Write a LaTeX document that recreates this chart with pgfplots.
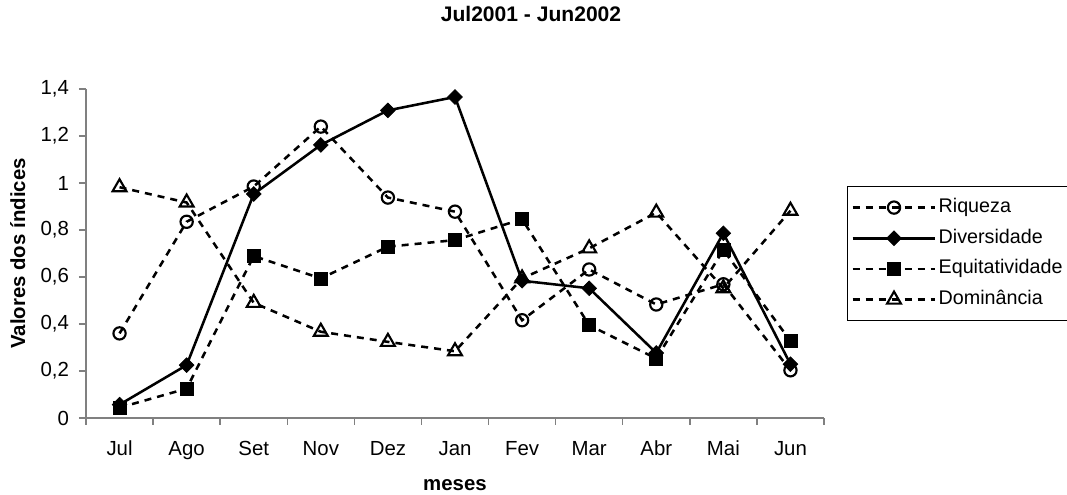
\documentclass[border=0pt]{standalone}
\usepackage{fontspec}
\setmainfont{Liberation Sans}
\usepackage{pgfplots}
\pgfplotsset{compat=1.18}
\newcommand{\fs}{\fontsize{15.3}{18}\selectfont}
\definecolor{axgray}{RGB}{128,128,128}
\begin{document}
\begin{tikzpicture}
\begin{axis}[
  scale only axis,
  width=553.5pt, height=246.75pt,
  xmin=-0.5, xmax=10.5, ymin=0, ymax=1.4,
  clip=false,
  axis x line*=bottom, axis y line*=left,
  axis line style={-, draw=axgray, line width=1.1pt},
  every tick/.style={draw=axgray, line width=1.1pt},
  tick align=outside,
  major tick length=5.25pt,
  xtick={-0.5,0.5,1.5,2.5,3.5,4.5,5.5,6.5,7.5,8.5,9.5,10.5},
  xticklabels={{},{},{},{},{},{},{},{},{},{},{},{}},
  extra x ticks={0,1,2,3,4,5,6,7,8,9,10},
  extra x tick labels={Jul,Ago,Set,Nov,Dez,Jan,Fev,Mar,Abr,Mai,Jun},
  extra x tick style={major tick length=0pt},
  ytick={0,0.2,0.4,0.6,0.8,1,1.2,1.4},
  yticklabel={\pgfmathprintnumber[use comma,assume math mode=true]{\tick}},
  tick label style={font=\fs},
  xticklabel style={anchor=base, yshift=-28.5pt},
  yticklabel style={anchor=east, xshift=-4pt},
  title={Jul2001 - Jun2002},
  title style={font=\bfseries\fontsize{15.8}{18}\selectfont, at={(rel axis cs:0.5,1)}, anchor=base, yshift=44.6pt, xshift=57pt},
  xlabel={meses},
  xlabel style={font=\bfseries\fs, at={(rel axis cs:0.5,0)}, anchor=base, yshift=-54.75pt},
  ylabel={Valores dos índices},
  ylabel style={font=\bfseries\fs, yshift=4.5pt},
  legend style={at={(rel axis cs:1.031,0.705)}, anchor=north west, draw=black, line width=0.8pt,
    font=\fontsize{14.8}{18}\selectfont, inner xsep=3pt, inner ysep=7pt, row sep=5.5pt,
    nodes={text height=11pt, text depth=3.5pt, inner sep=1.5pt}},
  legend cell align=left,
  legend image code/.code={\draw[mark repeat=2,mark phase=2,#1] plot coordinates {(0pt,0pt) (31pt,0pt) (62pt,0pt)};},
  every axis plot/.append style={line width=1.9pt, black},
  dsh/.style={dash pattern=on 5.25pt off 4.5pt},
]
\addplot[dsh, mark=o, mark size=4.6pt, mark options={solid, fill=white, line width=1.6pt}] coordinates {
(0,0.360) (1,0.835) (2,0.985) (3,1.240) (4,0.938) (5,0.878) (6,0.416) (7,0.632) (8,0.483) (9,0.569) (10,0.203)};
\addlegendentry{Riqueza}
\addplot[solid, mark=square*, mark size=3.9pt, mark options={rotate=45, solid, line width=0.5pt}] coordinates {
(0,0.057) (1,0.225) (2,0.953) (3,1.162) (4,1.309) (5,1.366) (6,0.584) (7,0.552) (8,0.277) (9,0.786) (10,0.229)};
\addlegendentry{Diversidade}
\addplot[dsh, mark=square*, mark size=4.9pt, mark options={solid, line width=0.5pt}] coordinates {
(0,0.044) (1,0.125) (2,0.689) (3,0.594) (4,0.729) (5,0.757) (6,0.846) (7,0.395) (8,0.253) (9,0.715) (10,0.328)};
\addlegendentry{Equitatividade}
\addplot[dsh, mark=triangle, mark size=6pt, mark options={solid, fill=white, line width=1.6pt}] coordinates {
(0,0.982) (1,0.917) (2,0.490) (3,0.367) (4,0.324) (5,0.284) (6,0.594) (7,0.722) (8,0.874) (9,0.552) (10,0.882)};
\addlegendentry{Dominância}
\end{axis}
\pgfresetboundingbox
\path (current axis.south west) ++(-64.5pt,-57.75pt) rectangle ++(800.25pt,371.25pt);
\end{tikzpicture}
\end{document}
